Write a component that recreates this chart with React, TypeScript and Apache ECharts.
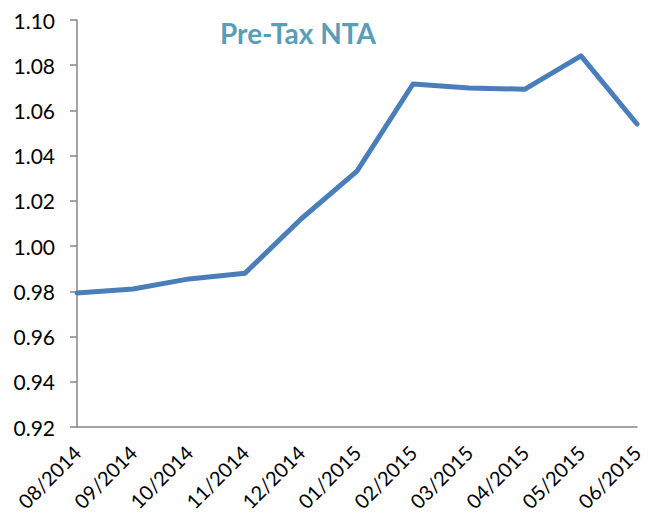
import React, { useEffect, useRef } from "react";
import * as echarts from "echarts";

const categories = [
  "08/2014", "09/2014", "10/2014", "11/2014", "12/2014", "01/2015",
  "02/2015", "03/2015", "04/2015", "05/2015", "06/2015",
];
const ntaValues = [0.9793, 0.981, 0.9855, 0.988, 1.012, 1.0332, 1.0717, 1.0699, 1.0694, 1.0841, 1.054];
const yMin = 0.92;
const yMax = 1.1;
const yStep = 0.02;
const titleText = "Pre-Tax NTA";

export default function App() {
  const ref = useRef<HTMLDivElement>(null);
  useEffect(() => {
    if (!ref.current) return;
    const chart = echarts.init(ref.current, null, { renderer: "svg" });
    chart.setOption({
      animation: false,
      backgroundColor: "#ffffff",
      title: {
        text: titleText,
        left: 215,
        top: 14,
        textStyle: {
          color: "#5a9db7",
          fontSize: 28,
          fontWeight: "bold",
          fontFamily: "Lato",
        },
      },
      grid: { left: 77, right: 14, top: 20, bottom: 91, containLabel: false },
      xAxis: {
        type: "category",
        data: categories,
        boundaryGap: false,
        axisLine: { lineStyle: { color: "#878787", width: 1.5 } },
        axisTick: { show: false },
        axisLabel: {
          rotate: 45,
          color: "#000000",
          fontSize: 20,
          fontFamily: "Lato",
          margin: 22,
          interval: 0,
        },
        splitLine: { show: false },
      },
      yAxis: {
        type: "value",
        min: yMin,
        max: yMax,
        interval: yStep,
        axisLine: { show: true, lineStyle: { color: "#878787", width: 1.5 } },
        axisTick: { show: true, length: 7, lineStyle: { color: "#878787", width: 1.5 } },
        axisLabel: {
          color: "#000000",
          fontSize: 21,
          fontFamily: "Lato",
          margin: 22,
          formatter: (v: number) => v.toFixed(2),
        },
        splitLine: { show: false },
      },
      series: [
        {
          type: "line",
          data: ntaValues,
          symbol: "none",
          lineStyle: { color: "#4a7ebb", width: 5, cap: "round", join: "round" },
        },
      ],
    });
    return () => chart.dispose();
  }, []);
  return <div ref={ref} style={{ width: 651, height: 518, position: "absolute", left: 0, top: 0 }} />;
}
